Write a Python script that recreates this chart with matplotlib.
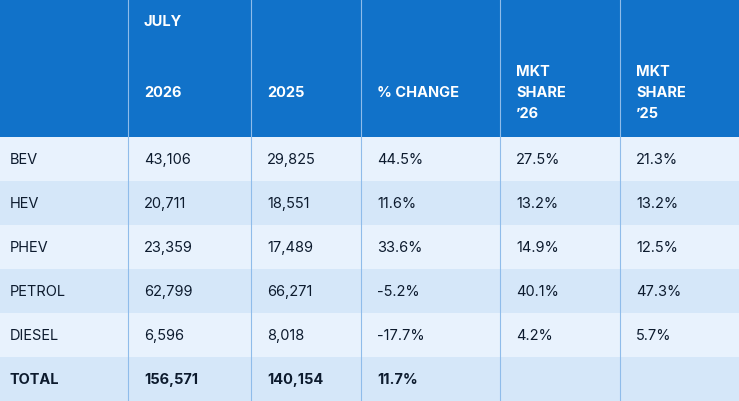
import matplotlib
matplotlib.use("Agg")
import matplotlib.pyplot as plt
from matplotlib.patches import Rectangle

categories = ["BEV", "HEV", "PHEV", "PETROL", "DIESEL", "TOTAL"]
v2026 = ["43,106", "20,711", "23,359", "62,799", "6,596", "156,571"]
v2025 = ["29,825", "18,551", "17,489", "66,271", "8,018", "140,154"]
pct = ["44.5%", "11.6%", "33.6%", "-5.2%", "-17.7%", "11.7%"]
share26 = ["27.5%", "13.2%", "14.9%", "40.1%", "4.2%", ""]
share25 = ["21.3%", "13.2%", "12.5%", "47.3%", "5.7%", ""]

W, H = 739, 402
fig = plt.figure(figsize=(W/100, H/100), dpi=100)
ax = fig.add_axes([0, 0, 1, 1])
ax.set_xlim(0, W); ax.set_ylim(H, 0); ax.axis("off")
plt.rcParams['font.family'] = ['Inter', 'DejaVu Sans']

blue = "#1172c9"
colx = [0, 128, 251, 361, 500, 620, W]
hdr_h = 138
rh = 44
ax.add_patch(Rectangle((0, 0), W, hdr_h, color=blue, lw=0))
row_cols = ["#e8f2fd", "#d5e7f9"]
for i in range(len(categories)):
    y0 = hdr_h + i*rh
    ax.add_patch(Rectangle((0, y0), W, rh if i < 5 else H-y0, color=row_cols[i % 2], lw=0))
for x in colx[1:-1]:
    ax.plot([x, x], [0, H], color="#8fbcea", lw=0.8)

hk = dict(color="white", fontsize=10.5, fontweight="bold", va="center", ha="left")
ax.text(colx[1]+16, 22, "JULY", **hk)
ax.text(colx[1]+16, 93, "2026", **hk)
ax.text(colx[2]+16, 93, "2025", **hk)
ax.text(colx[3]+16, 93, "% CHANGE", **hk)
for j, lab in [(4, "’26"), (5, "’25")]:
    ax.text(colx[j]+16, 72, "MKT", **hk)
    ax.text(colx[j]+16, 93, "SHARE", **hk)
    ax.text(colx[j]+16, 114, lab, **hk)

for i, cat in enumerate(categories):
    yc = hdr_h + i*rh + rh/2
    bold = cat == "TOTAL"
    kw = dict(color="#0d1b2e", fontsize=10.5, va="center", ha="left",
              fontweight="bold" if bold else "normal")
    ax.text(10, yc, cat, **kw)
    vals = [v2026[i], v2025[i], pct[i], share26[i], share25[i]]
    for j, v in enumerate(vals):
        ax.text(colx[j+1]+16, yc, v, **kw)

fig.savefig("out.png", dpi=100)
